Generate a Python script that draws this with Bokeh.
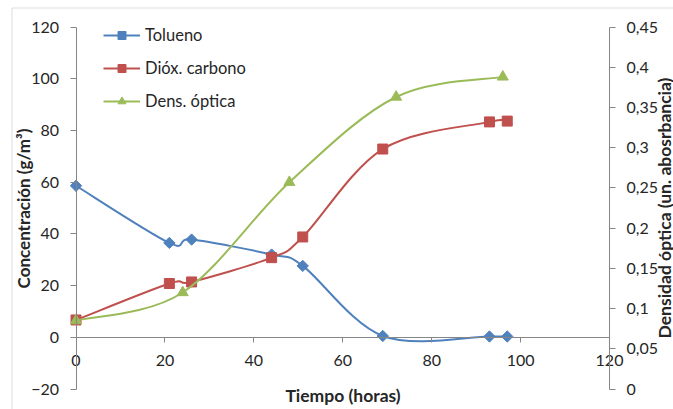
import math
from bokeh.plotting import figure
from bokeh.models import (ColumnDataSource, Range1d, LinearAxis, FixedTicker,
                          CustomJSTickFormatter, Legend, LegendItem, Label, BoxAnnotation)
from bokeh.embed import file_html
from bokeh.resources import INLINE

# ---------------- data ----------------
time_tolueno = [0, 21, 26, 44, 51, 69, 93, 97]
tolueno = [58.6, 36.5, 37.8, 32.0, 27.6, 0.5, 0.3, 0.3]

time_co2 = [0, 21, 26, 44, 51, 69, 93, 97]
dioxido_carbono = [6.7, 20.8, 21.4, 30.8, 38.8, 72.8, 83.3, 83.6]

time_dens = [0, 24, 48, 72, 96]
dens_optica = [0.085, 0.120, 0.257, 0.363, 0.388]

x_ticks = [0, 20, 40, 60, 80, 100, 120]
y_left_ticks = [-20, 0, 20, 40, 60, 80, 100, 120]
y_right_ticks = [0, 0.05, 0.1, 0.15, 0.2, 0.25, 0.3, 0.35, 0.4, 0.45]

series_names = ["Tolueno", "Dióx. carbono", "Dens. óptica"]
x_title = "Tiempo (horas)"
y_left_title = "Concentración (g/m³)"
y_right_title = "Densidad óptica (un. abosrbancia)"

# ---------------- layout / styles ----------------
W, H = 673, 409
PLOT_L, PLOT_R, PLOT_T, PLOT_B = 75.5, 609.0, 26.5, 388.5   # plot area in page px
X_MIN, X_MAX = 0, 120
YL_MIN, YL_MAX = -20, 120
YR_MIN, YR_MAX = 0, 0.45

BLUE, RED, GREEN = "#4F81BD", "#C0504D", "#9BBB59"
AXIS = "#868686"
TXT = "#262626"
FONT = "Lato"

# ranges extended so that the whole canvas is the frame (axes are placed at fixed locations)
kx = (PLOT_R - PLOT_L) / (X_MAX - X_MIN)
ky = (PLOT_B - PLOT_T) / (YL_MAX - YL_MIN)
kr = (PLOT_B - PLOT_T) / (YR_MAX - YR_MIN)
x_start = X_MIN - PLOT_L / kx
x_end = x_start + W / kx
yl_end = YL_MAX + PLOT_T / ky
yl_start = yl_end - H / ky
yr_end = YR_MAX + PLOT_T / kr
yr_start = yr_end - H / kr


def page_x(px):
    return x_start + px / kx


def page_y(py):
    return yl_end - py / ky


def smooth_source(xs, ys):
    """Bezier segments (Catmull-Rom style smoothing as in spreadsheet charts)."""
    n = len(xs)
    d = dict(x0=[], y0=[], x1=[], y1=[], cx0=[], cy0=[], cx1=[], cy1=[])
    for i in range(n - 1):
        xp, yp = xs[max(i - 1, 0)], ys[max(i - 1, 0)]
        xa, ya = xs[i], ys[i]
        xb, yb = xs[i + 1], ys[i + 1]
        xn, yn = xs[min(i + 2, n - 1)], ys[min(i + 2, n - 1)]
        d["x0"].append(xa); d["y0"].append(ya)
        d["x1"].append(xb); d["y1"].append(yb)
        d["cx0"].append(xa + (xb - xp) / 6.0); d["cy0"].append(ya + (yb - yp) / 6.0)
        d["cx1"].append(xb - (xn - xa) / 6.0); d["cy1"].append(yb - (yn - ya) / 6.0)
    return ColumnDataSource(d)


p = figure(width=W, height=H,
           x_range=Range1d(x_start, x_end), y_range=Range1d(yl_start, yl_end),
           output_backend="svg", toolbar_location=None,
           min_border=0, min_border_left=0, min_border_right=0,
           min_border_top=0, min_border_bottom=0)
p.outline_line_color = None
p.grid.visible = False
p.background_fill_color = "white"
p.border_fill_color = "white"
p.extra_y_ranges = {"od": Range1d(yr_start, yr_end)}

# chart-area border (top and left edges visible in the reference)
p.add_layout(BoxAnnotation(left=page_x(11.5), right=page_x(W + 20), top=page_y(7.5),
                           bottom=page_y(H + 20), fill_alpha=0, line_color="#8c8c8c",
                           line_width=1, level="underlay"))

# x axis crossing at y = 0
xa = p.xaxis[0]
xa.ticker = FixedTicker(ticks=x_ticks)
xa.fixed_location = 0
xa.bounds = (X_MIN, X_MAX)
xa.axis_line_color = AXIS
xa.major_tick_line_color = AXIS
xa.major_tick_out = 5
xa.major_tick_in = 0
xa.minor_tick_line_color = None
xa.major_label_standoff = 13
xa.major_label_text_font = FONT
xa.major_label_text_font_size = "16px"
xa.major_label_text_color = TXT
xa.axis_label = x_title
xa.axis_label_text_font = FONT
xa.axis_label_text_font_style = "bold"
xa.axis_label_text_font_size = "17.5px"
xa.axis_label_text_color = TXT
xa.axis_label_standoff = 15

# left axis at x = 0
ya = p.yaxis[0]
ya.ticker = FixedTicker(ticks=y_left_ticks)
ya.fixed_location = X_MIN
ya.bounds = (YL_MIN, YL_MAX)
ya.axis_line_color = AXIS
ya.major_tick_line_color = AXIS
ya.major_tick_out = 6
ya.major_tick_in = 0
ya.minor_tick_line_color = None
ya.major_label_standoff = 11
ya.major_label_text_font = FONT
ya.major_label_text_font_size = "16px"
ya.major_label_text_color = TXT
ya.axis_label = y_left_title
ya.axis_label_text_font = FONT
ya.axis_label_text_font_style = "bold"
ya.axis_label_text_font_size = "17px"
ya.axis_label_text_color = TXT
ya.axis_label_standoff = -5

# right axis at x = 120
ra = LinearAxis(y_range_name="od", ticker=FixedTicker(ticks=y_right_ticks),
                formatter=CustomJSTickFormatter(code="""
                    return tick.toFixed(2).replace(/0+$/, '').replace(/\\.$/, '').replace('.', ',');
                """))
ra.fixed_location = X_MAX
ra.bounds = (YR_MIN, YR_MAX)
ra.axis_line_color = AXIS
ra.major_tick_line_color = AXIS
ra.major_tick_out = 6
ra.major_tick_in = 0
ra.minor_tick_line_color = None
ra.major_label_standoff = 11
ra.major_label_text_font = FONT
ra.major_label_text_font_size = "16px"
ra.major_label_text_color = TXT
p.add_layout(ra, "right")

# series
src_tol = ColumnDataSource(dict(x=time_tolueno, y=tolueno))
src_co2 = ColumnDataSource(dict(x=time_co2, y=dioxido_carbono))
src_od = ColumnDataSource(dict(x=time_dens, y=dens_optica))

l_tol = p.bezier("x0", "y0", "x1", "y1", "cx0", "cy0", "cx1", "cy1",
                 source=smooth_source(time_tolueno, tolueno), line_color=BLUE, line_width=2)
m_tol = p.scatter("x", "y", source=src_tol, marker="square", angle=math.pi / 4,
                  size=8, fill_color=BLUE, line_color=BLUE)

l_co2 = p.bezier("x0", "y0", "x1", "y1", "cx0", "cy0", "cx1", "cy1",
                 source=smooth_source(time_co2, dioxido_carbono), line_color=RED, line_width=2)
m_co2 = p.scatter("x", "y", source=src_co2, marker="square",
                  size=10, fill_color=RED, line_color=RED)

l_od = p.bezier("x0", "y0", "x1", "y1", "cx0", "cy0", "cx1", "cy1",
                source=smooth_source(time_dens, dens_optica), line_color=GREEN, line_width=2,
                y_range_name="od")
m_od = p.scatter("x", "y", source=src_od, marker="triangle", size=11,
                 fill_color=GREEN, line_color=GREEN, y_range_name="od")

legend = Legend(items=[
    LegendItem(label=series_names[0], renderers=[l_tol, m_tol]),
    LegendItem(label=series_names[1], renderers=[l_co2, m_co2]),
    LegendItem(label=series_names[2], renderers=[l_od, m_od]),
], location=(103, H - 111), border_line_color=None, background_fill_alpha=0,
    padding=0, margin=0, spacing=13, glyph_width=37, glyph_height=20,
    label_height=20, label_standoff=5, label_text_font=FONT,
    label_text_font_size="16.5px", label_text_color=TXT)
p.add_layout(legend)

# right axis title (reads bottom to top)
p.add_layout(Label(x=page_x(663.5), y=page_y((PLOT_T + PLOT_B) / 2), text=y_right_title,
                   angle=math.pi / 2, text_align="center", text_baseline="middle",
                   text_font=FONT, text_font_style="bold", text_font_size="17.5px",
                   text_color=TXT))

open("out.html", "w").write(file_html(p, INLINE))
